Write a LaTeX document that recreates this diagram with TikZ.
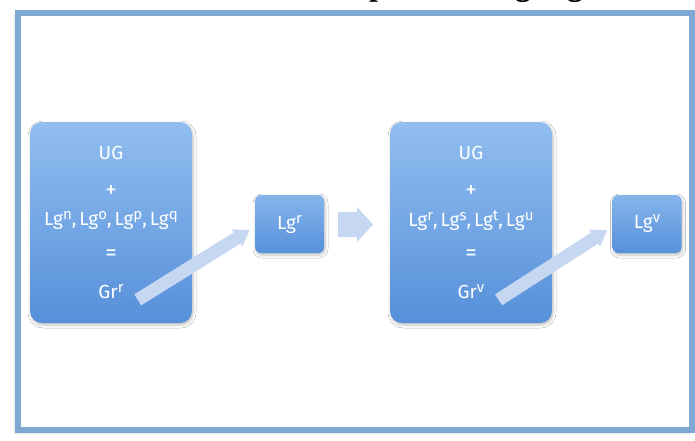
\documentclass[tikz,border=0pt]{standalone}
\usepackage{fontspec}
\setmainfont{Fira Sans}
\newfontfamily\titlefont{Liberation Serif}
\usetikzlibrary{calc,shadows.blur,arrows.meta}

\definecolor{framec}{RGB}{128,168,212}
\definecolor{boxtop}{RGB}{146,190,240}
\definecolor{boxbot}{RGB}{86,144,218}
\definecolor{flowc}{RGB}{198,216,241}

% raised index on a language or grammar name
\newcommand{\upidx}[1]{\raisebox{0.6ex}{\fontsize{15}{15}\selectfont #1}}
% comma in a list of languages, with a little air after it
\newcommand{\lsep}{,\kern3pt}

\tikzset{
  x=1pt, y=1pt,
  bigbox/.style={rounded corners=12pt, top color=boxtop, bottom color=boxbot,
    minimum width=162pt, minimum height=201pt, inner sep=0pt,
    blur shadow={shadow xshift=1pt, shadow yshift=-2pt, shadow blur radius=3pt, shadow opacity=25}},
  smallbox/.style={rounded corners=6pt, top color=boxtop!80!boxbot, bottom color=boxbot,
    minimum width=69pt, minimum height=58pt, inner sep=0pt, text=white,
    font=\fontsize{19}{21}\selectfont,
    blur shadow={shadow xshift=1pt, shadow yshift=-2pt, shadow blur radius=3pt, shadow opacity=25}},
  lbl/.style={text=white, inner sep=0pt, font=\fontsize{19}{21}\selectfont},
  bigsym/.style={lbl, font=\fontsize{23}{24}\selectfont},
  flowarrow/.style={draw=flowc, line width=13pt,
    -{Triangle[width=19pt, length=15pt]}},
  descender/.style={inner sep=0pt, font=\titlefont\bfseries\fontsize{32}{34}\selectfont}
}

\begin{document}
\begin{tikzpicture}
\useasboundingbox (0,0) rectangle (695,-440);

% title line above the frame, only its lowest strokes fall on the page
\begin{scope}
  \clip (0,0) rectangle (695,-440);
  \node[descender, anchor=base west] (tp) at (369,5) {p};
  \node[descender, anchor=base] (tg1) at (523,5) {g};
  \node[descender, anchor=base] (tg2) at (575,5) {g};
\end{scope}

% outer frame
\draw[line width=5.5pt, draw=framec, fill=white,
  blur shadow={shadow xshift=-2pt, shadow yshift=-2pt, shadow blur radius=3pt, shadow opacity=35}]
  (18,-13) rectangle (692,-430);

% left grammar box
\node[bigbox] (b1) at (111,-222.5) {};
\node[lbl] (ug1) at ($(b1.north)+(0,-31)$) {UG};
\node[bigsym] (pl1) at ($(b1.north)+(0,-70)$) {+};
\node[lbl] (lg1) at ($(b1.north)+(0,-99)$) {Lg\upidx{n}\lsep Lg\upidx{o}\lsep Lg\upidx{p}\lsep Lg\upidx{q}};
\node[bigsym] (eq1) at ($(b1.north)+(0,-133)$) {=};
\node[lbl] (gr1) at ($(b1.north)+(0,-170)$) {Gr\upidx{r}};

% right grammar box
\node[bigbox] (b2) at (471,-222.5) {};
\node[lbl] (ug2) at ($(b2.north)+(0,-31)$) {UG};
\node[bigsym] (pl2) at ($(b2.north)+(0,-70)$) {+};
\node[lbl] (lg2) at ($(b2.north)+(0,-99)$) {Lg\upidx{r}\lsep Lg\upidx{s}\lsep Lg\upidx{t}\lsep Lg\upidx{u}};
\node[bigsym] (eq2) at ($(b2.north)+(0,-133)$) {=};
\node[lbl] (gr2) at ($(b2.north)+(0,-170)$) {Gr\upidx{v}};

% output languages
\node[smallbox] (o1) at (289.5,-224) {Lg\upidx{r}};
\node[smallbox] (o2) at (647,-224) {Lg\upidx{v}};

% block step between the two stages
\fill[flowc] (338,-212) -- (357,-212) -- (357,-207) -- (373,-224.5)
  -- (357,-242) -- (357,-237) -- (338,-237) -- cycle;

% grammar to language arrows
\coordinate (t1) at ($(gr1.east)+(14,-8)$);
\coordinate (h1) at ($(o1.west)+(-5,-6)$);
\coordinate (t2) at ($(gr2.east)+(14,-8)$);
\coordinate (h2) at ($(o2.west)+(-5,-6)$);
\draw[flowarrow] (t1) -- (h1);
\draw[flowarrow] (t2) -- (h2);
\end{tikzpicture}
\end{document}
